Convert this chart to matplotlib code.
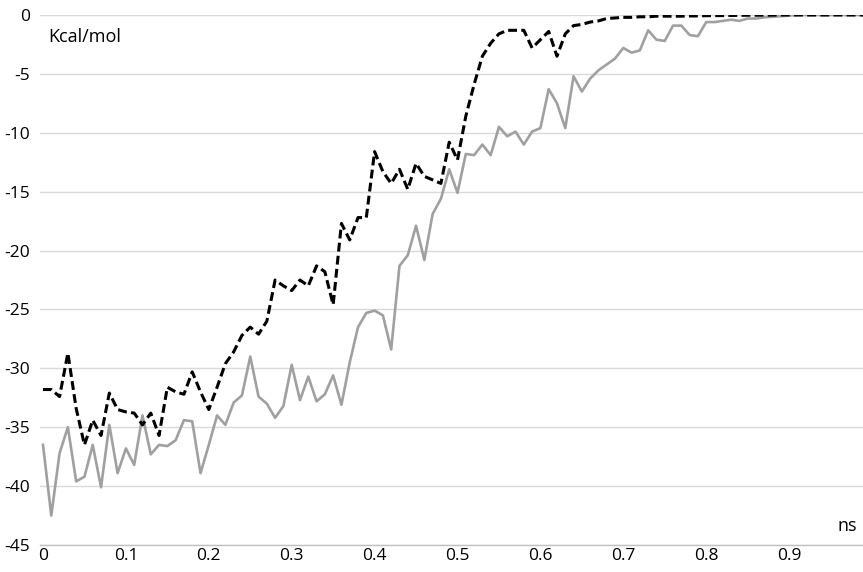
import matplotlib
matplotlib.use("Agg")
import matplotlib.pyplot as plt
import numpy as np

# time in ns (0.00 .. 0.99)
time_ns = [round(i * 0.01, 2) for i in range(100)]

dashed_series = [
    -31.8, -31.8, -32.4, -28.7, -33.4, -36.5, -34.4, -35.7, -32.1, -33.5,
    -33.7, -33.8, -34.8, -33.8, -35.7, -31.6, -32.0, -32.2, -30.3, -32.0,
    -33.5, -31.6, -29.6, -28.6, -27.2, -26.5, -27.1, -26.0, -22.5, -23.0,
    -23.4, -22.5, -23.0, -21.3, -21.8, -24.6, -17.7, -19.1, -17.2, -17.2,
    -11.6, -13.3, -14.3, -13.1, -14.8, -12.6, -13.7, -14.0, -14.3, -10.8,
    -12.3, -8.6, -5.9, -3.5, -2.4, -1.6, -1.3, -1.3, -1.3, -2.8,
    -2.1, -1.4, -3.5, -1.6, -0.9, -0.8, -0.6, -0.5, -0.3, -0.25,
    -0.2, -0.2, -0.15, -0.15, -0.1, -0.1, -0.1, -0.1, -0.08, -0.08,
    -0.06, -0.05, -0.05, -0.04, -0.03, -0.02, -0.02, -0.01, -0.01, 0.0,
    0.0, 0.0, 0.0, 0.0, 0.0, 0.0, 0.0, 0.0, 0.0, 0.0,
]

solid_series = [
    -36.5, -42.5, -37.2, -35.0, -39.6, -39.2, -36.5, -40.1, -34.8, -38.9,
    -36.8, -38.2, -34.0, -37.3, -36.5, -36.6, -36.1, -34.4, -34.5, -38.9,
    -36.5, -34.0, -34.8, -32.9, -32.3, -29.0, -32.4, -33.0, -34.2, -33.2,
    -29.7, -32.7, -30.7, -32.8, -32.2, -30.6, -33.1, -29.5, -26.5, -25.3,
    -25.1, -25.5, -28.4, -21.3, -20.4, -17.9, -20.8, -16.9, -15.6, -13.1,
    -15.1, -11.8, -11.9, -11.0, -11.9, -9.5, -10.3, -9.9, -11.0, -9.9,
    -9.6, -6.3, -7.5, -9.6, -5.2, -6.5, -5.4, -4.7, -4.2, -3.7,
    -2.8, -3.2, -3.0, -1.3, -2.1, -2.2, -0.9, -0.9, -1.7, -1.8,
    -0.6, -0.6, -0.5, -0.4, -0.5, -0.3, -0.3, -0.2, -0.15, -0.1,
    -0.05, 0.0, 0.0, 0.0, 0.0, 0.0, 0.0, 0.0, 0.0, 0.0,
]

x_ticks = [0, 0.1, 0.2, 0.3, 0.4, 0.5, 0.6, 0.7, 0.8, 0.9]
x_tick_labels = ["0", "0.1", "0.2", "0.3", "0.4", "0.5", "0.6", "0.7", "0.8", "0.9"]
y_ticks = [0, -5, -10, -15, -20, -25, -30, -35, -40, -45]
y_label = "Kcal/mol"
x_label = "ns"

plt.rcParams['font.family'] = ['Open Sans', 'DejaVu Sans']

W, H = 863, 572
fig = plt.figure(figsize=(W / 100, H / 100), dpi=100)
ax = fig.add_axes([40 / W, 27 / H, (W - 40) / W, 530 / H])

ax.plot(time_ns, solid_series, color='#a0a0a0', lw=1.9, zorder=3)
ax.plot(time_ns, dashed_series, color='black', lw=2.2, linestyle=(0, (2.9, 1.4)), zorder=4)

x0 = -3 / 829
x1 = (W - 43) / 829 * 1.0
ax.set_xlim(x0, x1)
ax.set_ylim(-45, 0)

ax.set_xticks(x_ticks)
ax.set_xticklabels(x_tick_labels)
ax.set_yticks(y_ticks)
ax.set_yticklabels([str(v) for v in y_ticks])
ax.tick_params(axis='both', length=0, labelsize=12.5, colors='black')
ax.tick_params(axis='y', pad=7)
ax.tick_params(axis='x', pad=2)

ax.yaxis.grid(True, color='#d9d9d9', lw=1.0, zorder=0)
ax.xaxis.grid(False)
for s in ['top', 'right', 'left']:
    ax.spines[s].set_visible(False)
ax.spines['bottom'].set_color('#c0c0c0')
ax.spines['bottom'].set_linewidth(1.0)
ax.spines['bottom'].set_zorder(1)

ax.text(0.006, -1.9, y_label, fontsize=13, ha='left', va='center')
ax.text(0.958, -43.4, x_label, fontsize=13, ha='left', va='center')

fig.savefig('out.png', dpi=100)
